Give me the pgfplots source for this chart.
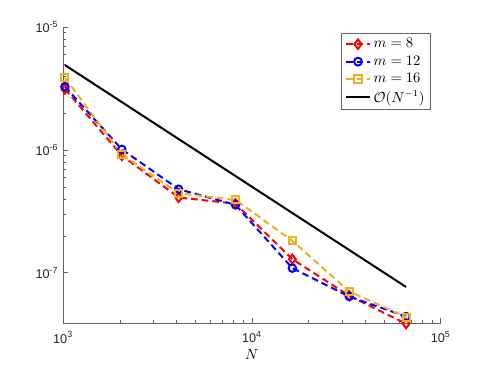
\documentclass[border=0pt]{standalone}
\usepackage{pgfplots}
\pgfplotsset{compat=1.18}
\usepackage{fontspec}
\setmainfont{Liberation Sans}
\definecolor{morange}{rgb}{0.929,0.694,0.125}
\definecolor{axgray}{rgb}{0.38,0.38,0.38}
\begin{document}
\begin{tikzpicture}
\begin{loglogaxis}[
    scale only axis,
    width=283.3pt, height=222pt,
    at={(0,0)}, anchor=south west,
    xmin=1000, xmax=1e5,
    ymin=3.9e-8, ymax=1e-5,
    axis x line*=bottom, axis y line*=left,
    axis line style={axgray, line width=0.4pt, -},
    tick style={axgray, line width=0.4pt},
    major tick length=4pt, minor tick length=2.2pt,
    tick align=inside,
    xtick={1e3,1e4,1e5},
    xticklabels={10\textsuperscript{3},10\textsuperscript{4},10\textsuperscript{5}},
    ytick={1e-7,1e-6,1e-5},
    yticklabels={10\textsuperscript{-7},10\textsuperscript{-6},10\textsuperscript{-5}},
    ticklabel style={font=\fontsize{9.5}{11}\selectfont, text=black!85},
    xticklabel style={yshift=-3pt},
    xlabel={$N$},
    xlabel style={font=\fontsize{10.5}{12}\selectfont, yshift=2pt},
    clip=false,
    legend cell align=left,
    legend image post style={scale=1.05},
    legend style={at={(0.974,0.98)}, anchor=north east,
        font=\fontsize{10.5}{12}\selectfont, draw=black!60, line width=0.4pt,
        inner xsep=2.5pt, inner ysep=2pt, row sep=0.5pt},
    every axis plot/.append style={line width=1.5pt},
]
% m = 8
\addplot[red, dash pattern=on 5pt off 3pt, mark=diamond, mark size=3.4pt,
    mark options={solid, fill=white}] coordinates {
    (1024,3.13e-6) (2048,0.90e-6) (4096,4.1e-7) (8192,3.65e-7)
    (16384,1.29e-7) (32768,6.5e-8) (65536,3.85e-8)
};
\addlegendentry{$m=8$}
% m = 12
\addplot[blue, dash pattern=on 5pt off 3pt, mark=o, mark size=2.8pt,
    mark options={solid}] coordinates {
    (1024,3.27e-6) (2048,1.01e-6) (4096,4.79e-7) (8192,3.57e-7)
    (16384,1.09e-7) (32768,6.41e-8) (65536,4.4e-8)
};
\addlegendentry{$m=12$}
% m = 16
\addplot[morange, dash pattern=on 5pt off 3pt, mark=square, mark size=2.6pt,
    mark options={solid}] coordinates {
    (1024,3.87e-6) (2048,0.92e-6) (4096,4.44e-7) (8192,3.92e-7)
    (16384,1.82e-7) (32768,7.05e-8) (65536,4.36e-8)
};
\addlegendentry{$m=16$}
% reference slope
\addplot[black, solid] coordinates {
    (1024,4.9e-6) (65536,7.66e-8)
};
\addlegendentry{$\mathcal{O}(N^{-1})$}
\end{loglogaxis}
\path (-47.25pt,-31.5pt) rectangle (317.25pt,242.25pt);
\end{tikzpicture}
\end{document}
